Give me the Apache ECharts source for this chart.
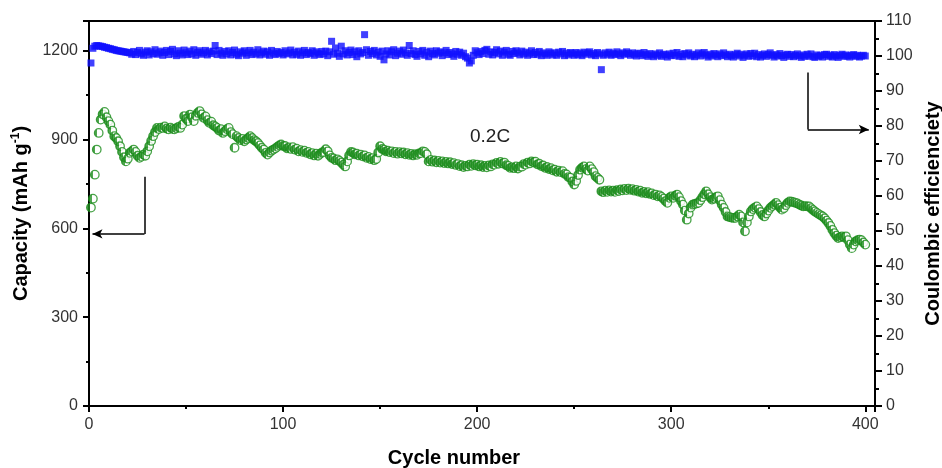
<!DOCTYPE html>
<html><head><meta charset="utf-8">
<script src="https://cdn.jsdelivr.net/npm/echarts@6/dist/echarts.min.js"></script>
<style>html,body{margin:0;padding:0;background:#fff}#c{width:942px;height:468px}</style>
</head><body><div id="c"></div>
<script>
// Capacity (mAh g-1), cycles 1..400
const capacity = [
670,700,781,866,922,967,985,993,975,962,
950,930,911,905,894,877,858,840,826,835,
855,860,866,858,845,838,842,849,845,860,
877,895,911,925,939,935,940,939,944,937,
934,940,936,934,938,942,939,950,979,970,
962,984,975,962,980,990,996,985,973,978,
965,956,960,948,944,939,930,935,922,928,
935,939,925,918,872,911,905,898,902,894,
900,905,911,905,898,894,888,880,872,866,
855,849,856,862,866,870,875,880,883,878,
878,870,873,868,874,866,869,860,864,858,
862,855,858,850,854,846,852,845,851,856,
858,867,860,846,838,836,830,833,828,822,
815,809,826,846,858,856,850,852,846,849,
843,846,838,841,834,837,830,834,856,877,
868,866,860,862,857,860,854,858,852,857,
853,856,850,854,848,851,846,850,848,853,
854,860,858,850,826,831,825,829,823,828,
822,826,820,824,819,823,817,820,814,817,
810,813,807,811,809,815,811,817,813,815,
809,813,807,811,806,812,809,816,815,821,
818,824,819,822,813,811,804,806,803,809,
802,808,808,817,815,822,819,826,823,825,
816,818,810,812,804,807,800,803,796,798,
791,795,790,793,784,782,773,771,758,748,
760,780,798,805,809,800,795,809,800,790,
776,770,764,725,722,727,723,728,724,727,
723,729,726,731,728,733,729,734,730,732,
727,730,724,727,720,723,718,722,716,718,
712,714,708,711,706,700,692,686,703,708,
703,710,714,705,692,680,660,629,650,670,
680,682,684,686,695,705,715,725,715,705,
697,700,705,708,695,680,669,655,640,638,
636,635,635,640,646,640,620,590,620,640,
657,665,670,674,665,655,645,640,650,660,
669,675,680,686,678,670,663,668,678,686,
691,690,688,686,684,680,677,674,675,674,
674,668,662,657,652,648,644,640,634,626,
618,608,595,584,575,567,570,573,570,573,
560,545,533,545,556,560,562,560,552,545
];
// Coulombic efficiency (%), cycles 1..400
const efficiency = [
98.0,102.2,102.8,103.0,102.9,102.8,102.7,102.5,102.4,102.2,
102.1,101.9,101.8,101.6,101.5,101.4,101.3,101.2,101.1,101.0,
100.9,100.5,101.3,100.4,101.0,101.6,100.6,100.2,101.1,101.5,
100.3,101.2,100.7,101.8,100.5,100.9,101.4,100.2,101.0,101.6,
100.4,101.3,101.9,100.6,100.1,101.5,100.8,100.3,101.7,100.9,
100.4,101.4,100.6,101.8,100.2,101.0,101.5,100.5,100.9,101.6,
100.3,101.2,100.7,101.4,103.0,100.4,101.6,100.8,100.2,101.3,
100.6,101.5,100.3,101.0,101.7,100.5,100.1,101.2,100.8,101.5,
100.2,100.9,101.6,100.4,101.1,100.6,101.8,100.3,100.9,101.4,
100.5,101.2,100.2,101.6,100.8,100.4,101.3,100.7,101.0,100.3,
101.5,100.6,100.9,101.7,100.3,101.1,100.5,101.4,100.2,100.9,
101.6,100.4,101.0,100.7,101.5,100.2,101.2,100.8,100.4,101.3,
100.6,101.4,100.1,101.2,104.2,100.5,102.3,100.8,99.9,102.8,
100.6,101.5,100.3,101.0,101.7,100.4,101.2,99.8,101.5,100.6,
101.0,106.1,101.8,100.2,101.3,100.7,101.6,100.3,101.1,99.9,
101.4,98.9,100.6,101.5,100.3,101.2,101.8,100.1,100.8,101.4,
100.5,101.7,100.9,100.2,103.0,100.7,101.5,100.4,99.9,101.3,
100.6,101.6,100.2,101.1,99.8,101.4,100.7,100.3,101.5,100.8,
101.2,100.1,100.9,101.6,100.4,101.0,100.6,99.9,101.3,100.5,
101.1,100.2,100.8,99.8,99.4,98.0,98.6,100.2,101.5,100.9,
100.4,101.3,100.7,101.6,101.9,100.5,101.2,100.3,101.0,101.8,
100.6,101.4,100.2,101.1,101.6,100.5,100.2,101.3,100.7,101.5,
100.9,100.3,101.4,100.6,101.1,100.2,100.8,101.5,100.4,101.0,
100.5,101.3,100.1,100.9,100.6,100.2,101.2,100.8,100.3,100.9,
100.2,101.1,100.6,101.3,100.1,100.8,100.3,101.0,100.7,100.2,
101.0,100.4,100.8,100.1,101.1,100.5,100.9,101.2,100.3,100.7,
100.1,101.0,100.6,96.1,100.2,100.9,100.5,101.1,100.2,100.8,
100.4,101.2,100.6,100.1,100.9,100.5,101.2,100.7,100.2,100.9,
100.5,100.0,100.8,100.6,100.1,101.0,100.4,99.9,100.7,100.3,
99.8,100.6,100.2,100.9,99.9,100.5,100.3,99.7,100.6,100.1,
100.8,100.2,101.0,99.9,100.5,99.8,100.7,100.3,100.9,100.0,
100.5,99.8,100.3,100.9,100.0,100.6,101.0,100.2,99.7,100.5,
100.0,100.7,100.3,99.8,100.6,100.1,100.9,100.3,99.8,100.5,
100.1,99.7,100.4,100.8,100.0,100.5,99.6,100.2,100.6,99.9,
100.7,100.1,100.8,99.8,100.4,99.7,100.2,100.6,99.9,100.4,
100.9,100.2,99.7,100.4,100.0,100.7,100.1,99.6,100.3,100.5,
99.9,100.4,99.8,100.2,100.6,100.0,99.6,100.3,99.9,100.5,
100.0,100.6,99.8,99.6,100.3,99.9,100.2,99.7,100.4,100.5,
99.9,100.2,99.7,100.4,100.0,99.6,100.2,100.5,99.9,100.3,
100.0,99.7,100.2,100.4,99.9,100.2,99.7,100.0,100.2,100.0
];
const xTicks = {min: 0, max: 405, interval: 100};
const capTicks = {min: 0, max: 1300, interval: 300};
const ceTicks = {min: 0, max: 110, interval: 10};
// annotation arrows in data units
const leftArrow = {x: 28.6, yTop: 774, y: 581, xTip: 1.8};
const rightArrow = {x: 370.4, yTop: 95.3, y: 79.0, xTip: 401.8};

const capData = capacity.map((v, i) => [i + 1, v]);
const ceData = efficiency.map((v, i) => [i + 1, v]);

const FONT = 'Liberation Sans, Arial, sans-serif';
const labelStyle = {color: '#333', fontSize: 16, fontFamily: FONT};
const nameStyle = {color: '#000', fontSize: 20, fontWeight: 'bold', fontFamily: FONT};
const halfFill = {type: 'linear', x: 0, y: 0, x2: 1, y2: 0, colorStops: [
  {offset: 0, color: '#249024'}, {offset: 0.36, color: '#249024'},
  {offset: 0.36, color: '#ffffff'}, {offset: 1, color: '#ffffff'}]};
const plain = v => String(v);

const chart = echarts.init(document.getElementById('c'), null, {renderer: 'canvas'});
chart.setOption({
  animation: false,
  backgroundColor: '#fff',
  grid: {left: 89, right: 67, top: 21, bottom: 62, outerBoundsMode: 'none', containLabel: false,
         show: true, borderColor: '#000', borderWidth: 2, backgroundColor: 'transparent'},
  graphic: [{type: 'text', left: 470, top: 127, style: {text: '0.2C', fontSize: 19, fill: '#222', fontFamily: FONT}}],
  xAxis: {
    type: 'value', min: xTicks.min, max: xTicks.max, interval: xTicks.interval,
    name: 'Cycle number', nameLocation: 'middle', nameGap: 42,
    nameTextStyle: Object.assign({padding: [0, 56, 0, 0]}, nameStyle),
    axisLine: {lineStyle: {color: '#000', width: 2}},
    axisTick: {inside: false, length: 6, lineStyle: {color: '#000', width: 2}},
    minorTick: {show: true, splitNumber: 2, length: 3, lineStyle: {color: '#000', width: 2}},
    axisLabel: Object.assign({margin: 11, showMaxLabel: false, formatter: plain}, labelStyle),
    splitLine: {show: false}
  },
  yAxis: [{
    type: 'value', min: capTicks.min, max: capTicks.max, interval: capTicks.interval,
    name: '{b|Capacity (mAh g}{s|-1}{b|)}', nameLocation: 'middle', nameGap: 57,
    nameTextStyle: {rich: {b: nameStyle, s: {color: '#000', fontSize: 12, fontWeight: 'bold', fontFamily: FONT, verticalAlign: 'top', padding: [0, 0, 10, 0]}}},
    axisLine: {show: true, lineStyle: {color: '#000', width: 2}},
    axisTick: {show: true, length: 6, lineStyle: {color: '#000', width: 2}},
    minorTick: {show: true, splitNumber: 2, length: 3, lineStyle: {color: '#000', width: 2}},
    axisLabel: Object.assign({margin: 11, showMaxLabel: false, formatter: plain}, labelStyle),
    splitLine: {show: false}
  }, {
    type: 'value', position: 'right', min: ceTicks.min, max: ceTicks.max, interval: ceTicks.interval,
    name: 'Coulombic efficienciety', nameLocation: 'middle', nameGap: 46, nameRotate: 90, nameTextStyle: nameStyle,
    axisLine: {show: true, lineStyle: {color: '#000', width: 2}},
    axisTick: {show: true, length: 7, lineStyle: {color: '#000', width: 2}},
    minorTick: {show: true, splitNumber: 2, length: 4, lineStyle: {color: '#000', width: 2}},
    axisLabel: Object.assign({margin: 11, formatter: plain}, labelStyle),
    splitLine: {show: false}
  }],
  series: [{
    type: 'scatter', yAxisIndex: 1, data: ceData,
    symbol: 'rect', symbolSize: 7,
    itemStyle: {color: '#1010ff'},
    markLine: {
      silent: true, animation: false, symbol: 'none', label: {show: false},
      lineStyle: {color: '#000', width: 1.5, type: 'solid'},
      data: [
        [{coord: [rightArrow.x, rightArrow.yTop], symbol: 'none'}, {coord: [rightArrow.x, rightArrow.y], symbol: 'none'}],
        [{coord: [rightArrow.x, rightArrow.y], symbol: 'none'}, {coord: [rightArrow.xTip, rightArrow.y], symbol: 'arrow', symbolSize: [7, 10]}]
      ]
    }
  }, {
    type: 'scatter', yAxisIndex: 0, data: capData,
    symbol: 'circle', symbolSize: 8.5,
    itemStyle: {color: halfFill, borderColor: '#1a8c1a', borderWidth: 1.3},
    markLine: {
      silent: true, animation: false, symbol: 'none', label: {show: false},
      lineStyle: {color: '#000', width: 1.5, type: 'solid'},
      data: [
        [{coord: [leftArrow.x, leftArrow.yTop], symbol: 'none'}, {coord: [leftArrow.x, leftArrow.y], symbol: 'none'}],
        [{coord: [leftArrow.x, leftArrow.y], symbol: 'none'}, {coord: [leftArrow.xTip, leftArrow.y], symbol: 'arrow', symbolSize: [7, 10]}]
      ]
    }
  }]
});
</script></body></html>
